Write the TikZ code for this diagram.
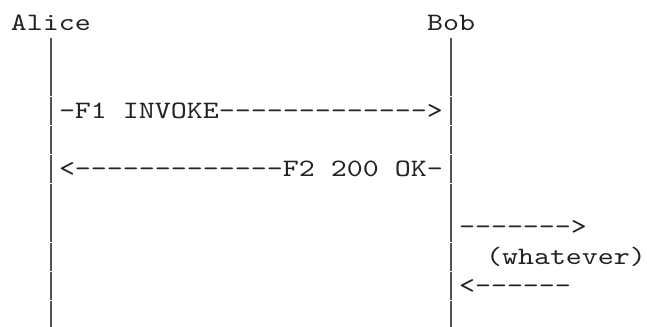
\documentclass[tikz,border=0pt]{standalone}
\usepackage{fontspec}
% Typewriter face widened to a 16px character pitch
\setmonofont{lmmono10-regular}[Extension=.otf, FakeStretch=1.219]
\definecolor{ink}{HTML}{222222}
\definecolor{lifegray}{HTML}{555555}
\tikzset{
  ascii/.style={font=\ttfamily\fontsize{18.75}{22}\selectfont, text=ink,
    inner sep=0pt, outer sep=0pt, anchor=base west},
  lifeline/.style={draw=lifegray, line width=1.5pt}
}
\begin{document}
\begin{tikzpicture}[x=0.75pt, y=-0.75pt]
  % canvas, in pixel units with y pointing down
  \fill[white] (0,0) rectangle (647,326);
  \useasboundingbox (0,0) rectangle (647,326);

  % participants (row 0)
  \node[ascii] (alice) at (11,30.5) {Alice};
  \node[ascii] (bob)   at (427,30.5) {Bob};

  % messages between the lifelines
  \node[ascii] (f1) at (59,118.1) {-F1 INVOKE------------->};
  \node[ascii] (f2) at (59,176.5) {<-------------F2 200 OK-};

  % Bob's side exchange
  \node[ascii] (out)  at (459,234.9) {------->};
  \node[ascii] (what) at (486,264.1) {(whatever)};
  \node[ascii] (back) at (459,293.3) {<------};

  % lifelines, one segment per text row
  \foreach \k in {1,...,10} {
    \pgfmathsetmacro\ya{8.5+29.2*\k+0.4}
    \pgfmathsetmacro\yb{8.5+29.2*(\k+1)-0.4}
    \draw[lifeline] (alice |- 0,\ya) -- (alice |- 0,\yb);
    \draw[lifeline] (bob |- 0,\ya) -- (bob |- 0,\yb);
  }
\end{tikzpicture}
\end{document}
